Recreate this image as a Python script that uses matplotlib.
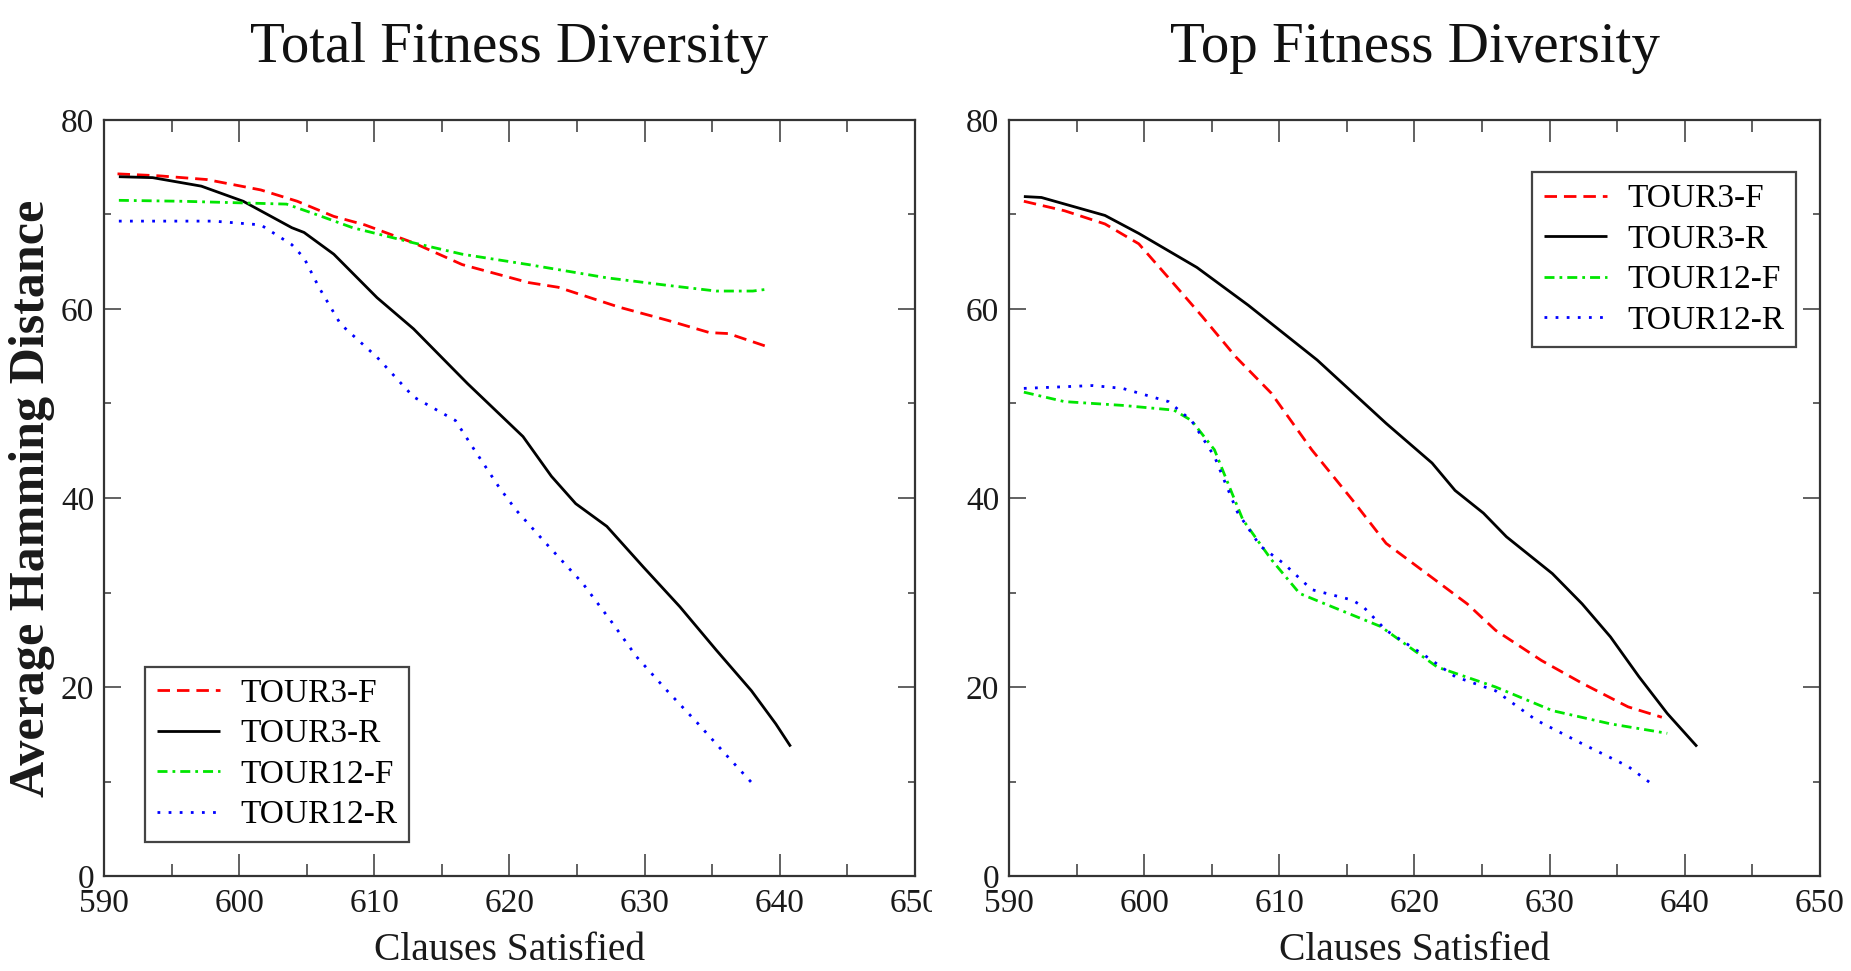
import matplotlib
matplotlib.use("Agg")
import matplotlib.pyplot as plt
from matplotlib.ticker import MultipleLocator
from matplotlib.transforms import Bbox, TransformedBbox

# ---------------- data ----------------
series_names = ["TOUR3-F", "TOUR3-R", "TOUR12-F", "TOUR12-R"]
titles = ["Total Fitness Diversity", "Top Fitness Diversity"]

# Left panel: Total Fitness Diversity
total_t3f_x = [591, 594, 597.6, 601.6, 604.3, 607, 609.3, 612.9, 616.5, 621.4, 623.6, 628.1, 631.7, 634.8, 636.2, 639.1]
total_t3f_y = [74.3, 74.1, 73.7, 72.6, 71.4, 69.8, 68.9, 67.0, 64.7, 62.8, 62.3, 60.2, 58.8, 57.5, 57.4, 56.0]
total_t3r_x = [591.1, 593.6, 597.2, 600.3, 603.9, 604.8, 607, 610.2, 612.9, 616.9, 621, 623.1, 624.9, 627.2, 629.9, 632.6, 635.3, 637.9, 639.7, 640.8]
total_t3r_y = [74.0, 73.9, 73.0, 71.4, 68.6, 68.1, 65.8, 61.2, 57.9, 52.1, 46.5, 42.3, 39.4, 37.0, 32.7, 28.5, 23.9, 19.6, 16.1, 13.7]
total_t12f_x = [591.1, 595.8, 603.5, 605.7, 608.4, 612.9, 616.5, 621.4, 627.2, 631.7, 635.3, 638, 639.1]
total_t12f_y = [71.5, 71.4, 71.1, 70.0, 68.6, 67.0, 65.8, 64.7, 63.3, 62.5, 61.9, 61.9, 62.1]
total_t12r_x = [591.1, 598.1, 601.6, 603.9, 604.8, 605.9, 607.5, 610.2, 612.9, 616, 617.4, 619.2, 620.5, 622.7, 625.4, 627.6, 629.4, 631.6, 633.9, 636.1, 637.9]
total_t12r_y = [69.3, 69.3, 68.9, 66.8, 65.4, 62.3, 58.4, 54.9, 50.7, 48.2, 45.1, 41.2, 38.7, 35.2, 31.0, 26.8, 23.2, 19.7, 16.2, 12.7, 9.9]

# Right panel: Top Fitness Diversity
top_t3f_x = [591.1, 594.1, 597.1, 599.6, 602.6, 604.3, 606.8, 609.4, 612.4, 615.4, 617.9, 620.9, 623.9, 626, 629.4, 632.4, 635.8, 638.3]
top_t3f_y = [71.4, 70.4, 69.0, 66.9, 62.0, 59.2, 54.9, 51.1, 45.1, 39.8, 35.2, 32.0, 28.8, 26.0, 22.8, 20.4, 17.9, 16.8]
top_t3r_x = [591.1, 592.4, 597.1, 599.6, 603.9, 607.7, 612.8, 617.9, 621.3, 623.0, 625.1, 626.8, 630.2, 632.4, 634.5, 636.6, 638.7, 640.9]
top_t3r_y = [71.9, 71.8, 69.9, 68.0, 64.4, 60.4, 54.6, 47.9, 43.7, 40.8, 38.4, 35.9, 32.0, 28.8, 25.3, 21.1, 17.2, 13.7]
top_t12f_x = [591.1, 594.1, 598.4, 602.2, 603.5, 605.2, 606.5, 607.3, 609.4, 611.5, 613.2, 617.5, 621.7, 626, 630.2, 634.5, 638.7]
top_t12f_y = [51.2, 50.2, 49.8, 49.3, 48.2, 45.1, 40.5, 37.7, 33.5, 29.9, 28.9, 26.4, 22.1, 20.0, 17.5, 16.1, 15.1]
top_t12r_x = [591.1, 596.2, 598.4, 601.8, 603.5, 605.2, 606, 606.9, 608.6, 610.3, 612.4, 615.4, 616.2, 617.9, 620.9, 623, 626, 629, 632.4, 635.8, 637.4]
top_t12r_y = [51.6, 51.9, 51.6, 50.2, 48.2, 44.4, 41.6, 38.5, 34.9, 33.1, 30.3, 29.2, 28.5, 26.0, 23.2, 21.1, 19.6, 16.5, 14.0, 11.6, 9.9]

x_label = "Clauses Satisfied"
y_label = "Average Hamming Distance"

# ---------------- style ----------------
SERIF = ["Liberation Serif", "DejaVu Serif"]
plt.rcParams["font.family"] = SERIF

styles = [
    dict(color="#ff0000", lw=2.0, dashes=(4.5, 2.5)),
    dict(color="#000000", lw=2.0, linestyle="-"),
    dict(color="#00e600", lw=2.0, dashes=(3.6, 1.8, 1.0, 1.8)),
    dict(color="#0000ff", lw=2.0, dashes=(1.0, 3.0)),
]

fig = plt.figure(figsize=(18.51, 9.71), dpi=100)
W, H = 1851, 971
ax_l = fig.add_axes([104 / W, 1 - 876 / H, 811 / W, 756 / H])
ax_r = fig.add_axes([1009 / W, 1 - 876 / H, 811 / W, 756 / H])

panels = [
    (ax_l, [(total_t3f_x, total_t3f_y), (total_t3r_x, total_t3r_y),
            (total_t12f_x, total_t12f_y), (total_t12r_x, total_t12r_y)]),
    (ax_r, [(top_t3f_x, top_t3f_y), (top_t3r_x, top_t3r_y),
            (top_t12f_x, top_t12f_y), (top_t12r_x, top_t12r_y)]),
]

for i, (ax, data) in enumerate(panels):
    for (xs, ys), name, st in zip(data, series_names, styles):
        ax.plot(xs, ys, label=name, solid_capstyle="butt", dash_capstyle="butt", **st)
    ax.set_xlim(590, 650)
    ax.set_ylim(0, 80)
    ax.xaxis.set_major_locator(MultipleLocator(10))
    ax.xaxis.set_minor_locator(MultipleLocator(5))
    ax.yaxis.set_major_locator(MultipleLocator(20))
    ax.yaxis.set_minor_locator(MultipleLocator(10))
    ax.tick_params(axis="x", which="major", direction="in", top=True, bottom=True,
                   length=16, width=1.3, color="#555555", labelsize=24, pad=9,
                   labelcolor="#1a1a1a")
    ax.tick_params(axis="x", which="minor", direction="in", top=True, bottom=True,
                   length=8.5, width=1.3, color="#555555")
    ax.tick_params(axis="y", which="major", direction="in", left=True, right=True,
                   length=12, width=1.3, color="#555555", labelsize=24, pad=7,
                   labelcolor="#1a1a1a")
    ax.tick_params(axis="y", which="minor", direction="in", left=True, right=True,
                   length=5, width=1.3, color="#555555")
    for sp in ax.spines.values():
        sp.set_color("#333333")
        sp.set_linewidth(1.6)
    ax.set_xlabel(x_label, fontsize=28.5, labelpad=9, color="#1a1a1a")
    ax.set_title(titles[i], fontsize=41, pad=42, color="#111111")

ax_l.set_ylabel(y_label, fontsize=36, fontweight="bold", labelpad=4, color="#1a1a1a")

leg_kw = dict(fontsize=24, handlelength=1.9, handletextpad=0.6, labelspacing=0.3,
              borderpad=0.35, borderaxespad=0.0, fancybox=False, framealpha=1.0)
leg_l = ax_l.legend(loc="lower left", bbox_to_anchor=(0.051, 0.045), **leg_kw)
leg_r = ax_r.legend(loc="upper right", bbox_to_anchor=(0.970, 0.931), **leg_kw)
for leg in (leg_l, leg_r):
    leg.get_frame().set_edgecolor("#444444")
    leg.get_frame().set_linewidth(1.6)

# the left panel's last tick label is cut off in the original
fig.canvas.draw()
clip = TransformedBbox(Bbox([[0, 0], [932 / W, 1]]), fig.transFigure)
for t in ax_l.get_xticklabels():
    t.set_clip_box(clip)
    t.set_clip_on(True)

fig.savefig("out.png", dpi=100)
